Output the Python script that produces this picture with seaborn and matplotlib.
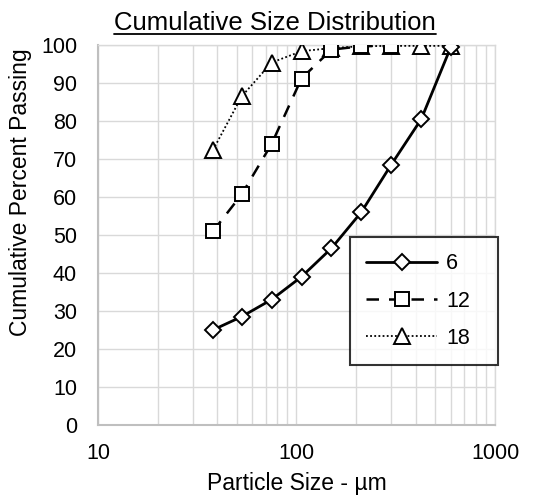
import numpy as np
import pandas as pd
import matplotlib
matplotlib.use('Agg')
import matplotlib.pyplot as plt
import seaborn as sns
from matplotlib.lines import Line2D
from matplotlib.ticker import LogLocator, FixedLocator, NullFormatter

# sieve sizes (um) and cumulative % passing for each series
size_6 = [38, 53, 75, 106, 150, 212, 300, 425, 600]
pass_6 = [25.0, 28.5, 33.0, 39.0, 46.5, 56.0, 68.5, 80.5, 99.6]

size_12 = [38, 53, 75, 106, 150, 212, 300]
pass_12 = [51.0, 60.7, 74.0, 91.2, 98.8, 99.7, 99.8]

size_18 = [38, 53, 75, 106, 150, 212, 300, 425, 600]
pass_18 = [72.4, 86.5, 95.4, 98.4, 99.2, 99.7, 99.8, 99.8, 99.8]

labels = ['6', '12', '18']

sns.set_style('white')
plt.rcParams['font.family'] = ['Liberation Sans', 'DejaVu Sans']
plt.rcParams['text.color'] = 'black'
plt.rcParams['axes.labelcolor'] = 'black'
plt.rcParams['xtick.color'] = 'black'
plt.rcParams['ytick.color'] = 'black'

fig = plt.figure(figsize=(5.44, 5.01), dpi=100)
ax = fig.add_axes([0.180, 0.152, 0.730, 0.758])

grid_c = '#D9D9D9'
axis_c = '#BFBFBF'

df6 = pd.DataFrame({'size': size_6, 'pct': pass_6})
df12 = pd.DataFrame({'size': size_12, 'pct': pass_12})
df18 = pd.DataFrame({'size': size_18, 'pct': pass_18})

mk = dict(markerfacecolor='white', markeredgecolor='black', markeredgewidth=1.4)
sns.lineplot(data=df6, x='size', y='pct', ax=ax, color='black', lw=2.0,
             marker='D', markersize=8, errorbar=None, label=labels[0], zorder=5, **mk)
sns.lineplot(data=df12, x='size', y='pct', ax=ax, color='black', lw=1.8,
             linestyle=(0, (5, 4)), marker='s', markersize=10, errorbar=None,
             label=labels[1], zorder=4, **mk)
sns.lineplot(data=df18, x='size', y='pct', ax=ax, color='black', lw=1.3,
             linestyle=(0, (1, 1.3)), marker='^', markersize=11, errorbar=None,
             label=labels[2], zorder=3, **mk)

ax.set_xscale('log')
ax.set_xlim(10, 1000)
ax.set_ylim(0, 100)
ax.set_yticks(np.arange(0, 101, 10))
ax.xaxis.set_major_locator(FixedLocator([10, 100, 1000]))
ax.set_xticklabels(['10', '100', '1000'])
ax.xaxis.set_minor_locator(LogLocator(base=10, subs=np.arange(2, 10)))
ax.xaxis.set_minor_formatter(NullFormatter())

ax.grid(True, which='major', color=grid_c, lw=1.0)
ax.grid(True, which='minor', axis='x', color=grid_c, lw=1.0)
ax.set_axisbelow(True)

for side in ['left', 'bottom']:
    ax.spines[side].set_color(axis_c)
    ax.spines[side].set_linewidth(1.5)
for side in ['top', 'right']:
    ax.spines[side].set_color(grid_c)
    ax.spines[side].set_linewidth(1.0)

ax.tick_params(axis='both', which='major', labelsize=15.5, color=axis_c,
               labelcolor='black', length=5, width=1.2, direction='out')
ax.tick_params(axis='y', which='major', pad=10)
ax.tick_params(axis='x', which='major', pad=8)
ax.tick_params(axis='x', which='minor', length=0)

ax.set_xlabel('Particle Size - µm', fontsize=16.5)
ax.set_ylabel('Cumulative Percent Passing', fontsize=16.5)
ax.xaxis.set_label_coords(0.5, -0.155)
ax.yaxis.set_label_coords(-0.194, 0.613)
ax.xaxis.label.set_va('center')
ax.yaxis.label.set_va('center')

leg = ax.legend(loc='lower left', bbox_to_anchor=(0.635, 0.158, 0.372, 0.347),
                mode='expand', fontsize=15.5, handlelength=3.3, handletextpad=0.4,
                borderaxespad=0, labelspacing=0.75, borderpad=0.75,
                frameon=True, fancybox=False, edgecolor='black')
leg.get_frame().set_linewidth(1.5)
leg.set_zorder(10)

title = fig.text(0.505, 0.941, 'Cumulative Size Distribution', ha='center',
                 va='baseline', fontsize=18.5)
fig.canvas.draw()
bb = title.get_window_extent(fig.canvas.get_renderer()).transformed(fig.transFigure.inverted())
fig.add_artist(Line2D([bb.x0, bb.x1], [bb.y0 + 0.001, bb.y0 + 0.001],
                      transform=fig.transFigure, color='black', lw=1.3))

fig.savefig('out.png', dpi=100)
